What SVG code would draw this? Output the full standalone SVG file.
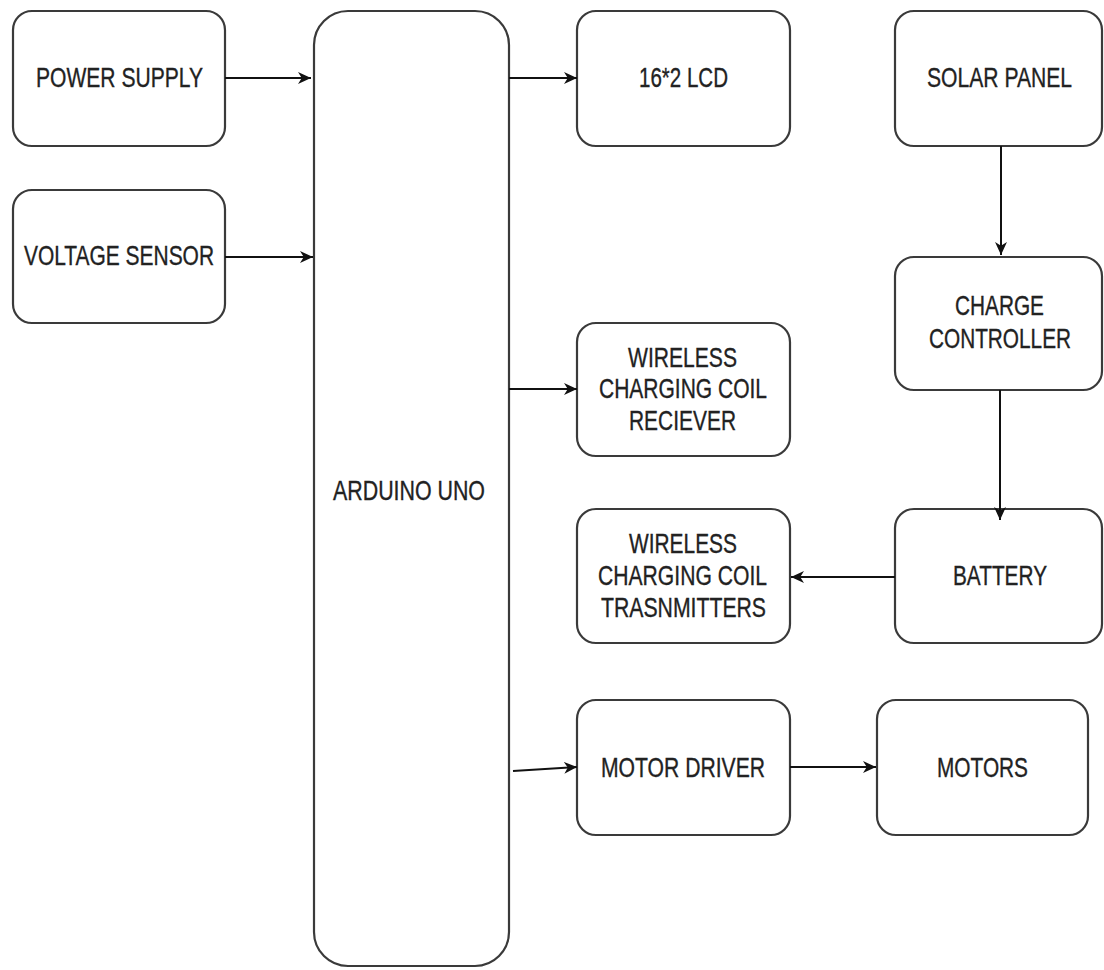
<svg xmlns="http://www.w3.org/2000/svg" width="1104" height="970" viewBox="0 0 1104 970">
<style>
.box{fill:#fff;stroke:#3a3a3a;stroke-width:2.2}
.lbl{font-family:"Liberation Sans",Arial,sans-serif;font-size:28px;fill:#222;stroke:#222;stroke-width:0.35;text-anchor:middle}
.ln{stroke:#111;stroke-width:2;fill:none}
</style>
<defs>
<marker id="ah" viewBox="0 0 12 12" refX="12" refY="6" markerWidth="13" markerHeight="13" markerUnits="userSpaceOnUse" orient="auto">
<path d="M0,0.5 L12,6 L0,11.5 L3.5,6 Z" fill="#111"/>
</marker>
</defs>
<rect width="1104" height="970" fill="#fff"/>
<g id="power-supply"><rect class="box" x="13" y="11" width="212" height="135" rx="19"/><text class="lbl" x="119.5" y="87" textLength="167" lengthAdjust="spacingAndGlyphs">POWER SUPPLY</text></g>
<g id="voltage-sensor"><rect class="box" x="13" y="190" width="212" height="133" rx="19"/><text class="lbl" x="119" y="265" textLength="190" lengthAdjust="spacingAndGlyphs">VOLTAGE SENSOR</text></g>
<g id="arduino"><rect class="box" x="314" y="11" width="195" height="955" rx="34"/><text class="lbl" x="409" y="500" textLength="152" lengthAdjust="spacingAndGlyphs">ARDUINO UNO</text></g>
<g id="lcd"><rect class="box" x="577" y="11" width="213" height="135" rx="19"/><text class="lbl" x="683.5" y="87" textLength="89" lengthAdjust="spacingAndGlyphs">16*2 LCD</text></g>
<g id="solar-panel"><rect class="box" x="895" y="11" width="207" height="135" rx="19"/><text class="lbl" x="999.5" y="87" textLength="145" lengthAdjust="spacingAndGlyphs">SOLAR PANEL</text></g>
<g id="charge-controller"><rect class="box" x="895" y="257" width="207" height="133" rx="19"/><text class="lbl" x="999.5" y="315" textLength="89" lengthAdjust="spacingAndGlyphs">CHARGE</text><text class="lbl" x="1000" y="348" textLength="142" lengthAdjust="spacingAndGlyphs">CONTROLLER</text></g>
<g id="wc-receiver"><rect class="box" x="577" y="323" width="213" height="133" rx="19"/><text class="lbl" x="682.5" y="367" textLength="109" lengthAdjust="spacingAndGlyphs">WIRELESS</text><text class="lbl" x="683" y="398" textLength="168" lengthAdjust="spacingAndGlyphs">CHARGING COIL</text><text class="lbl" x="682.5" y="430" textLength="107" lengthAdjust="spacingAndGlyphs">RECIEVER</text></g>
<g id="wc-transmitters"><rect class="box" x="577" y="509" width="213" height="134" rx="19"/><text class="lbl" x="683" y="553" textLength="108" lengthAdjust="spacingAndGlyphs">WIRELESS</text><text class="lbl" x="682.5" y="585" textLength="169" lengthAdjust="spacingAndGlyphs">CHARGING COIL</text><text class="lbl" x="683.5" y="617" textLength="165" lengthAdjust="spacingAndGlyphs">TRASNMITTERS</text></g>
<g id="battery"><rect class="box" x="895" y="509" width="207" height="134" rx="19"/><text class="lbl" x="1000" y="585" textLength="94" lengthAdjust="spacingAndGlyphs">BATTERY</text></g>
<g id="motor-driver"><rect class="box" x="577" y="700" width="213" height="135" rx="19"/><text class="lbl" x="683" y="777" textLength="164" lengthAdjust="spacingAndGlyphs">MOTOR DRIVER</text></g>
<g id="motors"><rect class="box" x="877" y="700" width="211" height="135" rx="19"/><text class="lbl" x="982.5" y="777" textLength="91" lengthAdjust="spacingAndGlyphs">MOTORS</text></g>
<g id="connectors">
<line class="ln" x1="225" y1="78" x2="311" y2="78" marker-end="url(#ah)"/>
<line class="ln" x1="225" y1="257" x2="313" y2="257" marker-end="url(#ah)"/>
<line class="ln" x1="509" y1="78" x2="577" y2="78" marker-end="url(#ah)"/>
<line class="ln" x1="509" y1="389" x2="577" y2="389" marker-end="url(#ah)"/>
<line class="ln" x1="1001" y1="146" x2="1001" y2="255" marker-end="url(#ah)"/>
<line class="ln" x1="1000" y1="390" x2="1000" y2="520" marker-end="url(#ah)"/>
<line class="ln" x1="895" y1="577" x2="791" y2="577" marker-end="url(#ah)"/>
<line class="ln" x1="513" y1="771" x2="577" y2="767" marker-end="url(#ah)"/>
<line class="ln" x1="790" y1="767" x2="876" y2="767" marker-end="url(#ah)"/>
</g>
</svg>
